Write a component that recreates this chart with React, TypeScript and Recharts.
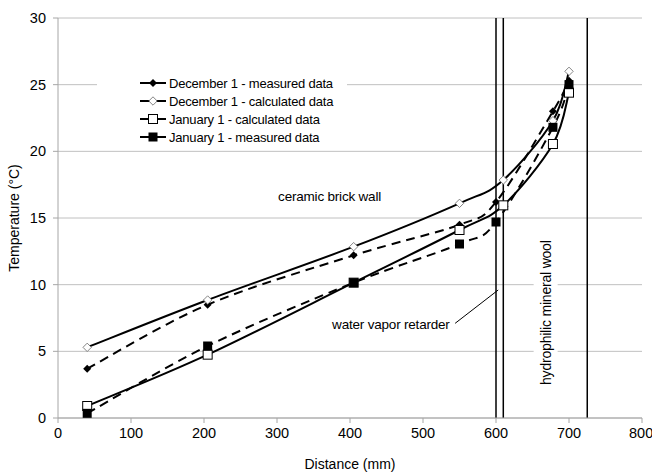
import React from 'react';
import {
  LineChart,
  Line,
  XAxis,
  YAxis,
  CartesianGrid,
  ReferenceLine,
  ReferenceDot,
} from 'recharts';

const FONT = '"Liberation Sans", Arial, sans-serif';

// axis ticks
const xTicks = [0, 100, 200, 300, 400, 500, 600, 700, 800];
const yTicks = [0, 5, 10, 15, 20, 25, 30];

// series
const decMeasuredX = [40, 205, 405, 550, 600, 678, 700];
const decMeasuredY = [3.7, 8.5, 12.2, 14.5, 16.2, 23.0, 25.3];

const decCalcX = [40, 205, 405, 550, 610, 678, 700];
const decCalcY = [5.3, 8.85, 12.85, 16.1, 17.85, 22.3, 26.0];

const janCalcX = [40, 205, 405, 550, 610, 678, 700];
const janCalcY = [0.9, 4.75, 10.15, 14.1, 15.95, 20.55, 24.4];

const janMeasuredX = [40, 205, 405, 550, 600, 678, 700];
const janMeasuredY = [0.35, 5.4, 10.15, 13.05, 14.7, 21.8, 25.0];

// layer boundaries (mm)
const boundaries = [600, 610, 725];

type Marker = 'diamondFilled' | 'diamondOpen' | 'squareOpen' | 'squareFilled';

const seriesList: { name: string; marker: Marker; dashed: boolean; xs: number[]; ys: number[] }[] = [
  { name: 'December 1 - measured data', marker: 'diamondFilled', dashed: true, xs: decMeasuredX, ys: decMeasuredY },
  { name: 'December 1 - calculated data', marker: 'diamondOpen', dashed: false, xs: decCalcX, ys: decCalcY },
  { name: 'January 1 - calculated data', marker: 'squareOpen', dashed: false, xs: janCalcX, ys: janCalcY },
  { name: 'January 1 - measured data', marker: 'squareFilled', dashed: true, xs: janMeasuredX, ys: janMeasuredY },
];

const toPoints = (xs: number[], ys: number[]) => xs.map((x, i) => ({ x, y: ys[i] }));

// Excel-like smoothed line (Catmull-Rom through the points)
function smoothCurve(context: any) {
  let pts: number[][] = [];
  let line = NaN;
  return {
    areaStart() {
      line = 0;
    },
    areaEnd() {
      line = NaN;
    },
    lineStart() {
      pts = [];
    },
    point(x: number, y: number) {
      pts.push([+x, +y]);
    },
    lineEnd() {
      const n = pts.length;
      if (n) {
        if (line) context.lineTo(pts[0][0], pts[0][1]);
        else context.moveTo(pts[0][0], pts[0][1]);
        for (let i = 0; i < n - 1; i++) {
          const p0 = pts[i - 1] || pts[i];
          const p1 = pts[i];
          const p2 = pts[i + 1];
          const p3 = pts[i + 2] || p2;
          context.bezierCurveTo(
            p1[0] + (p2[0] - p0[0]) / 6,
            p1[1] + (p2[1] - p0[1]) / 6,
            p2[0] - (p3[0] - p1[0]) / 6,
            p2[1] - (p3[1] - p1[1]) / 6,
            p2[0],
            p2[1]
          );
        }
      }
      if (line || (line !== 0 && n === 1)) context.closePath();
      line = 1 - line;
    },
  };
}

function MarkerShape({ kind, cx, cy }: { kind: Marker; cx: number; cy: number }) {
  if (kind === 'diamondFilled') {
    const s = 4;
    return <path d={`M${cx},${cy - s}L${cx + s},${cy}L${cx},${cy + s}L${cx - s},${cy}Z`} fill="#000" />;
  }
  if (kind === 'diamondOpen') {
    const s = 4.2;
    return (
      <path
        d={`M${cx},${cy - s}L${cx + s},${cy}L${cx},${cy + s}L${cx - s},${cy}Z`}
        fill="#fff"
        stroke="#666"
        strokeWidth={0.8}
      />
    );
  }
  if (kind === 'squareOpen') {
    return <rect x={cx - 4.5} y={cy - 4.5} width={9} height={9} fill="#fff" stroke="#000" strokeWidth={1} />;
  }
  return <rect x={cx - 4.5} y={cy - 4.5} width={9} height={9} fill="#000" />;
}

const dotFor = (kind: Marker) => (props: any) => {
  const { cx, cy, index } = props;
  if (cx == null || cy == null) return <g key={index} />;
  return <MarkerShape key={index} kind={kind} cx={cx} cy={cy} />;
};

const TextAt = (text: string, rotate = false) => (props: any) => {
  const { viewBox } = props;
  const cx = viewBox.x + (viewBox.width || 0) / 2;
  const cy = viewBox.y + (viewBox.height || 0) / 2;
  if (rotate) {
    return (
      <g>
        <rect x={cx - 12} y={cy - 86} width={24} height={172} fill="#fff" />
        <text
          x={cx}
          y={cy}
          transform={`rotate(-90 ${cx} ${cy})`}
          textAnchor="middle"
          dominantBaseline="central"
          fontSize={14}
          letterSpacing={-0.2}
          fontFamily={FONT}
          fill="#000"
        >
          {text}
        </text>
      </g>
    );
  }
  return (
    <text
      x={cx}
      y={cy}
      textAnchor="middle"
      dominantBaseline="central"
      fontSize={13.5}
      letterSpacing={-0.2}
      fontFamily={FONT}
      fill="#000"
    >
      {text}
    </text>
  );
};

function LegendBox() {
  return (
    <div
      style={{
        position: 'absolute',
        left: 97,
        top: 66,
        width: 250,
        height: 82,
        background: '#fff',
        fontFamily: FONT,
        fontSize: 13,
        color: '#000',
      }}
    >
      {seriesList.map((s, i) => (
        <div
          key={s.name}
          style={{
            position: 'absolute',
            left: 42,
            top: 8 + i * 18,
            height: 18,
            display: 'flex',
            alignItems: 'center',
            whiteSpace: 'nowrap',
          }}
        >
          <svg width={28} height={12} style={{ marginRight: 2 }}>
            <line x1={1} y1={6} x2={27} y2={6} stroke="#000" strokeWidth={2} />
            <MarkerShape kind={s.marker} cx={14} cy={6} />
          </svg>
          <span style={{ letterSpacing: -0.2 }}>{s.name}</span>
        </div>
      ))}
    </div>
  );
}

export default function App() {
  return (
    <div style={{ position: 'absolute', left: 0, top: 0, width: 652, height: 473, background: '#fff' }}>
      <LineChart width={652} height={473} margin={{ top: 18, right: 10, bottom: 0, left: 0 }}>
        <CartesianGrid vertical={false} stroke="#c0c0c0" />
        <XAxis
          type="number"
          dataKey="x"
          domain={[0, 800]}
          ticks={xTicks}
          height={55}
          tickSize={5}
          tickMargin={5}
          stroke="#a6a6a6"
          tick={{ fill: '#000', fontSize: 14.5, fontFamily: FONT }}
          label={{ value: 'Distance (mm)', position: 'insideBottom', offset: 4, fill: '#000', fontSize: 14, fontFamily: FONT }}
        />
        <YAxis
          type="number"
          domain={[0, 30]}
          ticks={yTicks}
          width={58}
          tickSize={5}
          tickMargin={7}
          stroke="#a6a6a6"
          tick={{ fill: '#000', fontSize: 14.5, fontFamily: FONT }}
          label={{
            value: 'Temperature (°C)',
            angle: -90,
            position: 'insideLeft',
            offset: 14,
            fill: '#000',
            fontSize: 14,
            fontFamily: FONT,
            style: { textAnchor: 'middle' },
          }}
        />
        <ReferenceDot x={668} y={7.9} r={0} fill="none" stroke="none" label={TextAt('hydrophilic mineral wool', true)} />
        {boundaries.map((b) => (
          <ReferenceLine key={b} x={b} stroke="#000" strokeWidth={1.5} />
        ))}
        <ReferenceLine
          segment={[
            { x: 544, y: 7.1 },
            { x: 603, y: 9.6 },
          ]}
          stroke="#000"
          strokeWidth={1}
        />
        <ReferenceDot x={372} y={16.6} r={0} fill="none" stroke="none" label={TextAt('ceramic brick wall')} />
        <ReferenceDot x={456} y={7.0} r={0} fill="none" stroke="none" label={TextAt('water vapor retarder')} />
        {seriesList.map((s) => (
          <Line
            key={s.name}
            name={s.name}
            data={toPoints(s.xs, s.ys)}
            dataKey="y"
            type={smoothCurve as any}
            stroke="#000"
            strokeWidth={2}
            strokeDasharray={s.dashed ? '9 6' : undefined}
            dot={dotFor(s.marker)}
            activeDot={false}
            isAnimationActive={false}
          />
        ))}
      </LineChart>
      <LegendBox />
    </div>
  );
}
